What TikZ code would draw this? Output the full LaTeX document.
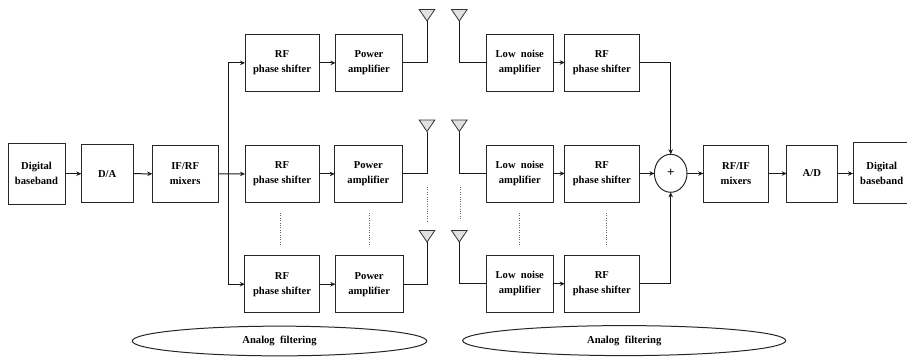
\documentclass[tikz,border=0pt]{standalone}
\usepackage{fontspec}
\setmainfont{Liberation Serif}
\usetikzlibrary{arrows.meta,shapes.geometric}
\tikzset{
  blk/.style={draw=black!85,line width=1pt,inner sep=0pt,outer sep=0pt,align=center,
    font=\fontsize{10.6}{15}\selectfont\bfseries},
  conn/.style={draw=black!90,line width=1pt},
  arr/.style={conn,-{Stealth[length=5pt,width=4.5pt]}},
  ant/.style={draw=black!80,fill=black!12,line width=0.8pt,line join=miter},
  dots/.style={draw=black!60,line width=0.8pt,dash pattern=on 1pt off 1.4pt},
  oval/.style={ellipse,draw=black!85,line width=1pt,inner sep=0pt,outer sep=0pt,
    font=\fontsize{10.6}{13}\selectfont\bfseries}
}
\newcommand{\bx}[6]{\node[blk,minimum width=#4 pt - #2 pt,minimum height=#5 pt - #3 pt] (#1) at ({(#2+#4)/2},{(#3+#5)/2}) {#6};}
\begin{document}
\begin{tikzpicture}[x=1pt,y=-1pt]
\useasboundingbox (0,0) rectangle (907,357);
\clip (0,0) rectangle (907,357);
% left chain
\bx{dig1}{8}{143.5}{65}{204}{Digital\\baseband}
\bx{da}{81.3}{144.8}{133}{202.6}{D/A}
\bx{mix1}{152.3}{145}{218}{202.6}{IF/RF\\mixers}
% transmit rows
\bx{rfa}{245}{34.5}{319}{91.3}{RF\\phase shifter}
\bx{paa}{335.5}{34.5}{402.5}{91.3}{Power\\amplifier}
\bx{rfb}{245}{145.3}{319}{202.6}{RF\\phase shifter}
\bx{pab}{334.7}{145.3}{402}{202.6}{Power\\amplifier}
\bx{rfc}{244.8}{255.7}{319.3}{312.7}{RF\\phase shifter}
\bx{pac}{335.3}{255.7}{403}{312.7}{Power\\amplifier}
% receive rows
\bx{lnaa}{486.3}{34}{553.3}{91}{Low\ \ noise\\amplifier}
\bx{rxa}{564.7}{34}{639}{91}{RF\\phase shifter}
\bx{lnab}{486.3}{145}{553.3}{202}{Low\ \ noise\\amplifier}
\bx{rxb}{564.7}{145}{639}{202}{RF\\phase shifter}
\bx{lnac}{486.3}{255.3}{553.3}{312.3}{Low\ \ noise\\amplifier}
\bx{rxc}{564.7}{255.3}{639}{312.3}{RF\\phase shifter}
% right chain
\node[blk,ellipse,minimum width=32.6pt,minimum height=38pt,font=\fontsize{13}{15}\selectfont\bfseries] (sum) at (670.7,173.3) {+};
\bx{mix2}{703.3}{145}{768.7}{202}{RF/IF\\mixers}
\bx{ad}{786.7}{145}{837}{202}{A/D}
\bx{dig2}{853}{142.5}{910.4}{203.3}{Digital\\baseband}
% ovals
\node[oval,minimum width=294.4pt,minimum height=29.7pt] (fa) at (279.5,341) {Analog\ \ filtering};
\node[oval,minimum width=323pt,minimum height=30pt] (fb) at (624.2,340.6) {Analog\ \ filtering};
% antennas
\coordinate (ta) at (427,21);
\coordinate (tb) at (427,131.5);
\coordinate (tc) at (427,242);
\coordinate (ra) at (459.3,21);
\coordinate (rb) at (459.3,131.5);
\coordinate (rc) at (459.3,242);
\foreach \a in {ta,tb,tc,ra,rb,rc}{
  \draw[ant] (\a) -- ++(-7.8,-11.5) -- ++(15.6,0) -- cycle;
}
% chain connectors
\draw[arr] (dig1.east |- da.west) -- (da.west);
\draw[arr] (da.east) -- (mix1.west);
\draw[arr] (mix1.east) -- (rfb.west);
\coordinate (bus) at (228.3,173.9);
\draw[arr] (bus) |- (rfa.west);
\draw[arr] (bus) |- (rfc.west);
\draw[arr] (rfa.east) -- (paa.west);
\draw[arr] (rfb.east) -- (pab.west);
\draw[arr] (rfc.east) -- (pac.west);
\draw[conn] (paa.east) -| (ta);
\draw[conn] (pab.east) -| (tb);
\draw[conn] (pac.east) -| (tc);
\draw[conn] (ra) |- (lnaa.west);
\draw[conn] (rb) |- (lnab.west);
\draw[conn] (rc) |- (lnac.west);
\draw[arr] (lnaa.east) -- (rxa.west);
\draw[arr] (lnab.east) -- (rxb.west);
\draw[arr] (lnac.east) -- (rxc.west);
\draw[arr] (rxa.east) -| (sum.north);
\draw[arr] (rxb.east) -- (sum.west |- rxb.east);
\draw[arr] (rxc.east) -| (sum.south);
\draw[arr] (sum.east |- mix2.west) -- (mix2.west);
\draw[arr] (mix2.east) -- (ad.west);
\draw[arr] (ad.east) -- (dig2.west |- ad.east);
% ellipsis dots
\draw[dots] (427,187) -- (427,221);
\draw[dots] (460,187) -- (460,220);
\draw[dots] (280,213) -- (280,246);
\draw[dots] (369,213) -- (369,246);
\draw[dots] (519,213) -- (519,246);
\draw[dots] (606,213) -- (606,246);
\end{tikzpicture}
\end{document}
